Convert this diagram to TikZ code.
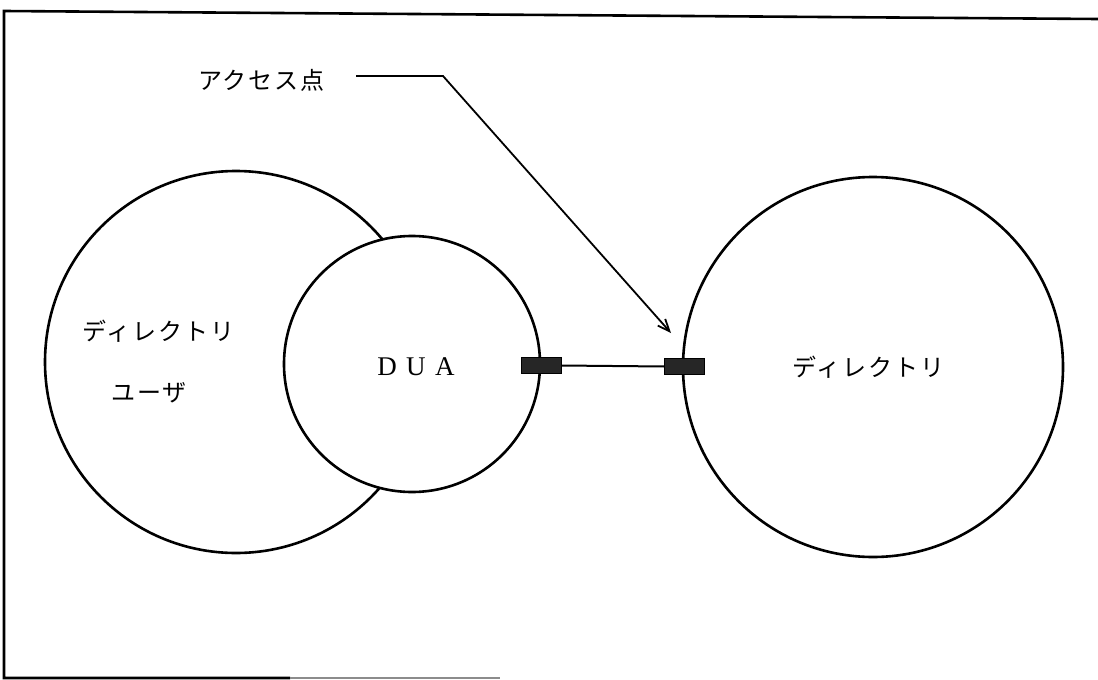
\documentclass[tikz,border=0pt]{standalone}
\usepackage{fontspec}
\usetikzlibrary{arrows.meta}
\newfontfamily\jp[LetterSpace=8]{Noto Sans CJK JP}
\newfontfamily\lat[LetterSpace=35]{Liberation Serif}
\begin{document}
\begin{tikzpicture}[x=1pt,y=-1pt,
  ring/.style={circle,draw=black,line width=2.6pt,inner sep=0pt},
  jtext/.style={font=\jp\fontsize{24}{24}\selectfont,inner sep=0pt,anchor=west},
  apbox/.style={rectangle,fill=black!85,draw=black,line width=0.6pt,inner sep=0pt,minimum width=40pt,minimum height=16pt},
  conn/.style={line width=2pt,black},
  frameline/.style={line width=2.6pt,black}]
\useasboundingbox (0,0) rectangle (1098,680);
% frame
\draw[frameline] (1098,19) -- (4,11) -- (4,678) -- (290,678);
\draw[frameline,black!45] (290,678) -- (500,678);
% circles
\node[ring,minimum size=382pt] (user) at (236,362) {};
\node[ring,fill=white,minimum size=256pt] (dua) at (412,364) {};
\node[ring,minimum size=380pt] (dir) at (873,367) {};
% texts
\node[jtext] (t1) at (82,331) {ディレクトリ};
\node[jtext] (t2) at (111,393) {ユーザ};
\node[font=\lat\fontsize{27}{27}\selectfont,inner sep=0pt] (duat) at (416,367) {DUA};
\node[jtext] (t3) at (792,367) {ディレクトリ};
\node[jtext] (lab) at (198,80) {アクセス点};
% access points
\node[apbox] (apL) at (541,365.5) {};
\node[apbox] (apR) at (684.5,366.5) {};
\draw[conn] (apL.east) -- (apR.west);
% leader arrow
\coordinate (lstart) at (356,76);
\coordinate (bend) at (443,76);
\coordinate (tip) at (671,333);
\draw[conn,line width=1.8pt,-{Straight Barb[length=12pt,width=10pt,line width=1.8pt]}] (lstart) -- (bend) -- (tip);
\end{tikzpicture}
\end{document}
